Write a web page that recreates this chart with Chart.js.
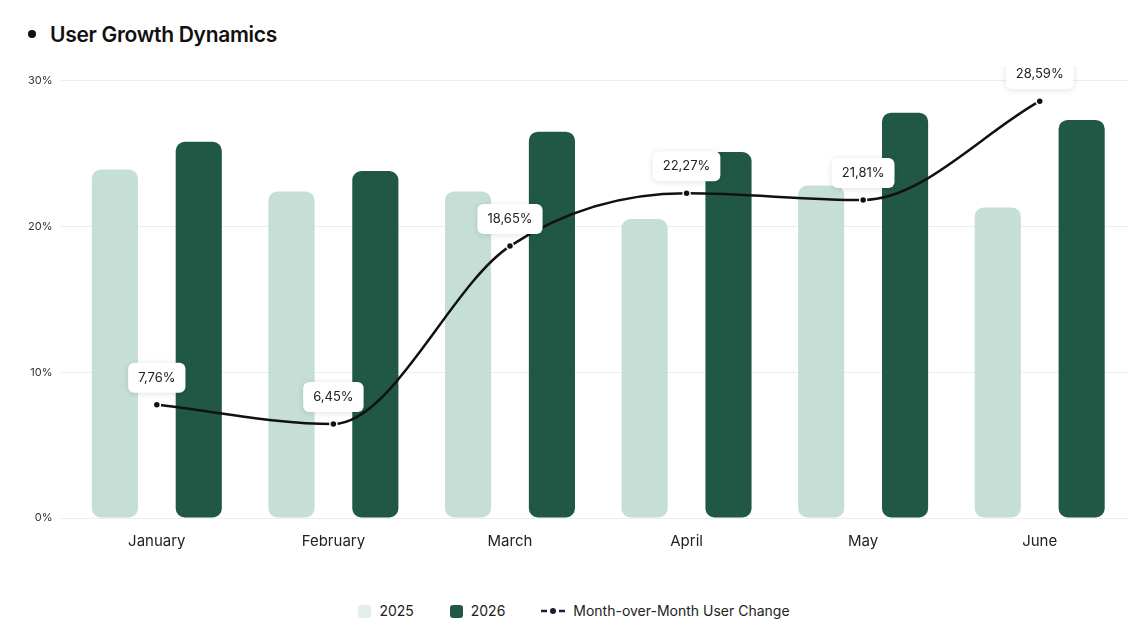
<!DOCTYPE html>
<html>
<head>
<meta charset="utf-8">
<script src="https://cdn.jsdelivr.net/npm/chart.js@4"></script>
<style>
	body { margin: 0; background: #fff; font-family: Inter, 'Noto Sans', sans-serif; color: #111; }
	#title { position: absolute; left: 28px; top: 22px; font-size: 21px; font-weight: 600; letter-spacing: -0.3px; }
	#title:before { content: ''; display: inline-block; width: 8px; height: 8px; border-radius: 50%; background: #111; margin-right: 14px; vertical-align: middle; position: relative; top: -2px; }
	#wrap { position: absolute; left: 20px; top: 66px; width: 1118px; height: 490px; }
	#legend { position: absolute; top: 600px; left: 0; width: 1148px; text-align: center; font-size: 14px; color: #222; }
	#legend span { display: inline-block; margin: 0 16px; vertical-align: middle; }
	.sq { display: inline-block; width: 13px; height: 13px; border-radius: 3px; margin-right: 8px; vertical-align: -2px; }
</style>
</head>
<body>
<div id="title">User Growth Dynamics</div>
<div id="wrap"><canvas id="canvas0"></canvas></div>
<div id="legend">
	<span><i class="sq" style="background:#e3efe6"></i>2025</span>
	<span><i class="sq" style="background:#215845"></i>2026</span>
	<span><svg width="24" height="8" style="vertical-align:1px;margin-right:8px"><line x1="0" y1="4" x2="6" y2="4" stroke="#1b1b3a" stroke-width="2.5"/><circle cx="12" cy="4" r="3" fill="#1b1b3a"/><line x1="18" y1="4" x2="24" y2="4" stroke="#1b1b3a" stroke-width="2.5"/></svg>Month-over-Month User Change</span>
</div>
<script>
const months = ['January', 'February', 'March', 'April', 'May', 'June'];
const users2025 = [23.9, 22.4, 22.4, 20.5, 22.8, 21.3];
const users2026 = [25.8, 23.8, 26.5, 25.1, 27.8, 27.3];
const momChange = [7.76, 6.45, 18.65, 22.27, 21.81, 28.59];

const fmt = v => v.toFixed(2).replace('.', ',') + '%';

// white boxes above the line points
const boxLabels = {
	id: 'boxLabels',
	afterDatasetsDraw(chart) {
		const ctx = chart.ctx;
		const meta = chart.getDatasetMeta(0);
		ctx.save();
		ctx.font = '13px Inter, sans-serif';
		ctx.textAlign = 'center';
		ctx.textBaseline = 'middle';
		meta.data.forEach((pt, i) => {
			const text = fmt(momChange[i]);
			const w = ctx.measureText(text).width + 20, h = 30;
			const x = pt.x - w / 2, y = pt.y - h - 12;
			ctx.shadowColor = 'rgba(0,0,0,0.12)';
			ctx.shadowBlur = 6;
			ctx.shadowOffsetY = 1;
			ctx.fillStyle = '#fff';
			ctx.beginPath();
			ctx.roundRect(x, y, w, h, 6);
			ctx.fill();
			ctx.shadowColor = 'transparent';
			ctx.fillStyle = '#222';
			ctx.fillText(text, pt.x, y + h / 2);
		});
		ctx.restore();
	}
};

new Chart(document.getElementById('canvas0'), {
	data: {
		labels: months,
		datasets: [{
			type: 'line',
			label: 'Month-over-Month User Change',
			data: momChange,
			borderColor: '#111',
			borderWidth: 2.5,
			pointRadius: 3.5,
			pointBackgroundColor: '#111',
			pointBorderColor: '#fff',
			pointBorderWidth: 1.5,
			cubicInterpolationMode: 'monotone',
			order: 0
		}, {
			type: 'bar',
			label: '2025',
			data: users2025,
			backgroundColor: '#c5dfd6',
			borderRadius: 9,
			borderSkipped: false,
			barPercentage: 0.55,
			categoryPercentage: 0.95,
			order: 1
		}, {
			type: 'bar',
			label: '2026',
			data: users2026,
			backgroundColor: '#215845',
			borderRadius: 9,
			borderSkipped: false,
			barPercentage: 0.55,
			categoryPercentage: 0.95,
			order: 1
		}]
	},
	options: {
		responsive: true,
		maintainAspectRatio: false,
		animation: false,
		layout: { padding: { top: 12, right: 10 } },
		plugins: { legend: { display: false }, tooltip: { enabled: false } },
		scales: {
			x: {
				grid: { display: false },
				border: { display: false },
				ticks: { font: { size: 15, family: 'Inter' }, color: '#222', padding: 6 }
			},
			y: {
				min: 0, max: 30,
				ticks: { stepSize: 10, callback: v => v + '%', font: { size: 11, family: 'Inter' }, color: '#333', padding: 8 },
				grid: { color: '#e8f0ea' },
				border: { display: false }
			}
		}
	},
	plugins: [boxLabels]
});
</script>
</body>
</html>
